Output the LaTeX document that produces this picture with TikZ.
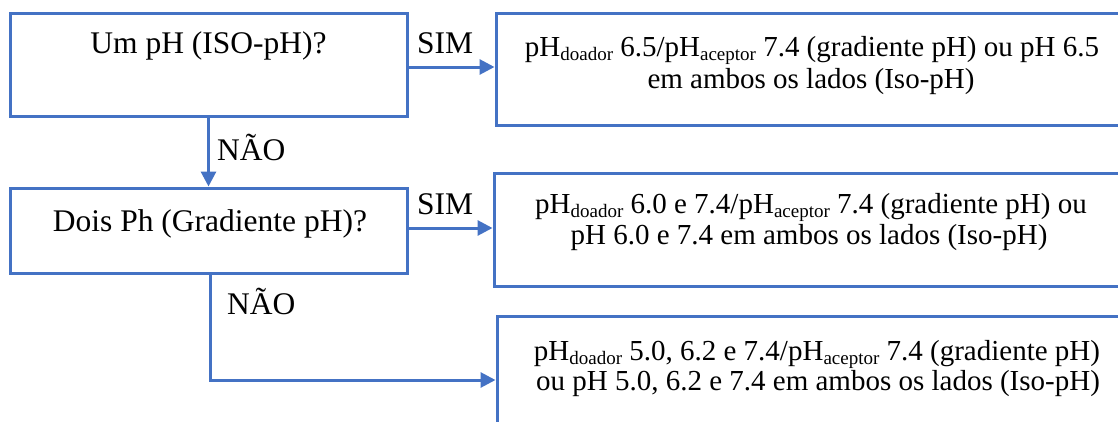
\documentclass[tikz,border=0pt]{standalone}
\usepackage{fontspec}
\setmainfont{Liberation Serif}
\usetikzlibrary{arrows.meta}
\definecolor{wblue}{HTML}{4472C4}
\newcommand{\qsize}{\fontsize{31.5}{36}\selectfont}
\newcommand{\bsize}{\fontsize{29}{33}\selectfont}
\newcommand{\sbx}[1]{\raisebox{-4pt}{\fontsize{19}{19}\selectfont #1}}
\begin{document}
\begin{tikzpicture}[x=1pt,y=-1pt,
  box/.style={draw=wblue, line width=3pt, inner sep=0pt, rectangle},
  arr/.style={draw=wblue, line width=3pt, -{Triangle[length=15pt,width=15pt]}},
  qtext/.style={anchor=base, inner sep=0pt, font=\qsize},
  btext/.style={anchor=base, inner sep=0pt, font=\bsize},
  lbl/.style={anchor=base west, inner sep=0pt, font=\qsize}]
\useasboundingbox (0,0) rectangle (1118,421);
\clip (0,0) rectangle (1118,421);
% boxes
\node[box, minimum width=397pt, minimum height=103pt] (b1) at (208.5,64.5) {};
\node[box, minimum width=634pt, minimum height=112pt] (b2) at (813,69) {};
\node[box, minimum width=397pt, minimum height=85pt] (b3) at (208.5,230.5) {};
\node[box, minimum width=636pt, minimum height=113pt] (b4) at (812,229.5) {};
\node[box, minimum width=633pt, minimum height=134pt] (b5) at (813.5,383) {};
% texts
\node[qtext] (t1) at (208.5,53) {Um pH (ISO-pH)?};
\node[qtext] (t3) at (210,231) {Dois Ph (Gradiente pH)?};
\node[btext] (t2a) at (812,56) {pH\sbx{doador} 6.5/pH\sbx{aceptor} 7.4 (gradiente pH) ou pH 6.5};
\node[btext] (t2b) at (811,88) {em ambos os lados (Iso-pH)};
\node[btext] (t4a) at (811,213) {pH\sbx{doador} 6.0 e 7.4/pH\sbx{aceptor} 7.4 (gradiente pH) ou};
\node[btext] (t4b) at (809,244) {pH 6.0 e 7.4 em ambos os lados (Iso-pH)};
\node[btext] (t5a) at (817,360) {pH\sbx{doador} 5.0, 6.2 e 7.4/pH\sbx{aceptor} 7.4 (gradiente pH)};
\node[btext] (t5b) at (818,390) {ou pH 5.0, 6.2 e 7.4 em ambos os lados (Iso-pH)};
% labels
\node[lbl] (s1) at (417,53) {SIM};
\node[lbl] (s2) at (417,214) {SIM};
\node[lbl] (n1) at (217,160) {NÃO};
\node[lbl] (n2) at (227,314) {NÃO};
% connectors
\draw[arr] ([yshift=-2.5pt]b1.east) -- ([yshift=-2.5pt]b1.east -| b2.west);
\draw[arr] ([yshift=2.5pt]b3.east) -- ([yshift=2.5pt]b3.east -| b4.west);
\draw[arr] (b1.south) -- (b3.north);
\draw[arr] ([xshift=2pt]b3.south) |- (b5.west |- 0,380);
\end{tikzpicture}
\end{document}
